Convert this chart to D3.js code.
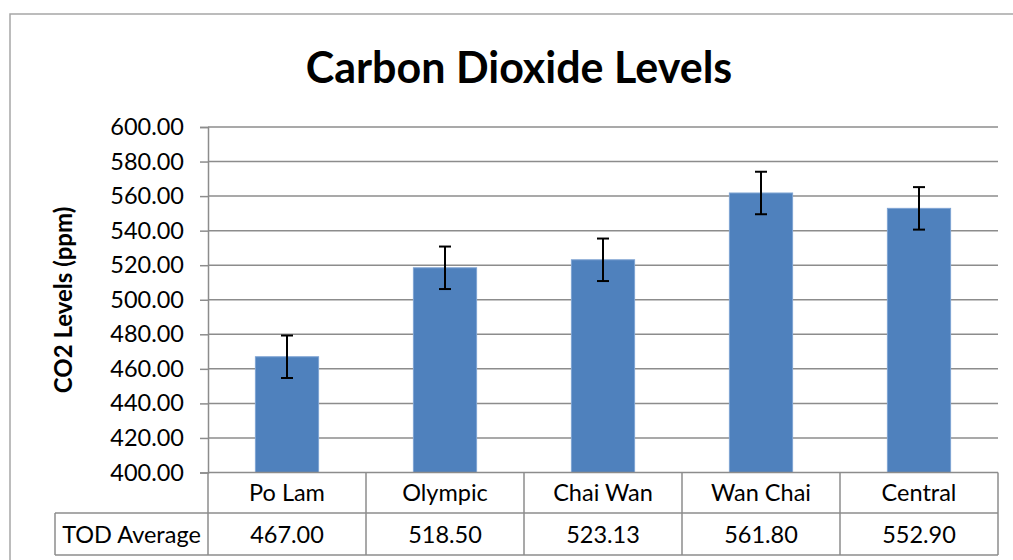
<!DOCTYPE html>
<html><head><meta charset="utf-8">
<script src="https://cdn.jsdelivr.net/npm/d3@7"></script>
<style>body{margin:0;background:#fff}svg{display:block}text{font-family:Lato,"Open Sans",sans-serif;fill:#000}</style>
</head><body><svg id="c" width="1013" height="560"></svg>
<script>
const categories = ["Po Lam","Olympic","Chai Wan","Wan Chai","Central"];
const values = [467.00, 518.50, 523.13, 561.80, 552.90];
const errors = [12.3, 12.3, 12.3, 12.3, 12.3];
const yTicks = [400,420,440,460,480,500,520,540,560,580,600];
const title = "Carbon Dioxide Levels";
const yTitle = "CO2 Levels (ppm)";
const rowLabel = "TOD Average";

const svg = d3.select("#c");
const L = 208, R = 998, T = 127, B = 472.5;
const row1 = 513, row2 = 555, tableLeft = 55;
const grid = "#8c8c8c";

// outer chart border
svg.append("rect").attr("x",10).attr("y",14).attr("width",1020).attr("height",600)
  .attr("fill","none").attr("stroke","#a6a6a6").attr("stroke-width",1.5);

const x = d3.scaleBand().domain(categories).range([L,R]).paddingInner(0.6).paddingOuter(0.3);
const xc = d3.scaleBand().domain(categories).range([L,R]);
const y = d3.scaleLinear().domain([400,600]).range([B,T]);

// gridlines
svg.append("g").selectAll("line").data(yTicks.slice(1)).join("line")
  .attr("x1",L).attr("x2",R).attr("y1",d=>y(d)).attr("y2",d=>y(d))
  .attr("stroke",grid).attr("stroke-width",1.5);

// y axis
const yAxis = d3.axisLeft(y).tickValues(yTicks).tickFormat(d3.format(".2f")).tickSize(8).tickPadding(16);
const ga = svg.append("g").attr("transform",`translate(${L},0)`).call(yAxis);
ga.select(".domain").attr("stroke",grid).attr("stroke-width",1.5);
ga.selectAll(".tick line").attr("stroke",grid).attr("stroke-width",1.5);
ga.selectAll(".tick text").attr("font-size",23.5).attr("font-family","Lato, sans-serif").attr("fill","#000");

// bars
svg.append("g").selectAll("rect").data(values).join("rect")
  .attr("x",(d,i)=>x(categories[i])).attr("width",x.bandwidth())
  .attr("y",d=>y(d)).attr("height",d=>B-y(d))
  .attr("fill","#4f81bd").attr("stroke","#7ea3d3").attr("stroke-width",1);

// error bars
const eb = svg.append("g").attr("stroke","#000").attr("stroke-width",2);
values.forEach((v,i)=>{
  const cx = x(categories[i]) + x.bandwidth()/2;
  eb.append("line").attr("x1",cx).attr("x2",cx).attr("y1",y(v+errors[i])).attr("y2",y(v-errors[i]));
  eb.append("line").attr("x1",cx-6).attr("x2",cx+6).attr("y1",y(v+errors[i])).attr("y2",y(v+errors[i]));
  eb.append("line").attr("x1",cx-6).attr("x2",cx+6).attr("y1",y(v-errors[i])).attr("y2",y(v-errors[i]));
});

// x axis line
svg.append("line").attr("x1",L).attr("x2",R).attr("y1",B).attr("y2",B).attr("stroke",grid).attr("stroke-width",1.5);

// data table
const tb = svg.append("g").attr("fill","none").attr("stroke",grid).attr("stroke-width",1.5);
tb.append("line").attr("x1",tableLeft).attr("x2",R).attr("y1",row1).attr("y2",row1);
tb.append("line").attr("x1",tableLeft).attr("x2",R).attr("y1",row2).attr("y2",row2);
tb.append("line").attr("x1",tableLeft).attr("x2",tableLeft).attr("y1",row1).attr("y2",row2);
tb.selectAll("line.v").data(categories.concat(["end"])).join("line").attr("class","v")
  .attr("x1",(d,i)=> i<categories.length ? xc(d) : R).attr("x2",(d,i)=> i<categories.length ? xc(d) : R)
  .attr("y1",B).attr("y2",row2);

svg.append("g").selectAll("text").data(categories).join("text")
  .attr("x",d=>xc(d)+xc.bandwidth()/2).attr("y",501).attr("text-anchor","middle")
  .attr("font-size",23.5).text(d=>d);
svg.append("g").selectAll("text").data(values).join("text")
  .attr("x",(d,i)=>xc(categories[i])+xc.bandwidth()/2).attr("y",543).attr("text-anchor","middle")
  .attr("font-size",23.5).text(d=>d3.format(".2f")(d));
svg.append("text").attr("x",(tableLeft+L)/2).attr("y",543).attr("text-anchor","middle")
  .attr("font-size",23.5).text(rowLabel);

// titles
svg.append("text").attr("x",519).attr("y",83).attr("text-anchor","middle")
  .attr("font-size",43).attr("font-weight","bold").text(title);
svg.append("text").attr("transform","translate(72,300) rotate(-90)").attr("text-anchor","middle")
  .attr("font-size",24).attr("font-weight","bold").text(yTitle);
</script></body></html>
